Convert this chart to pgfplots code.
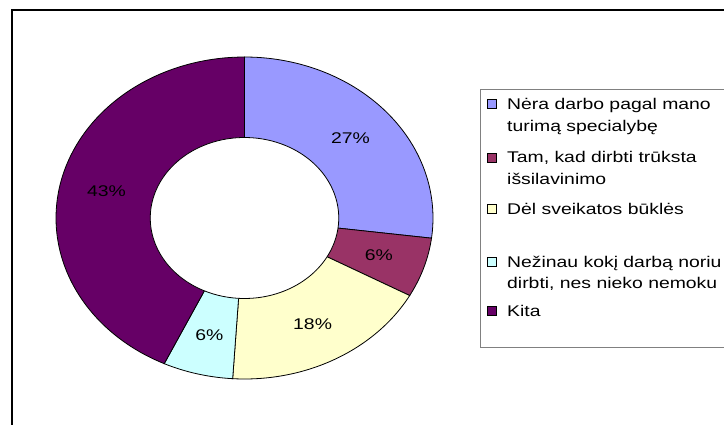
\documentclass[border=0pt]{standalone}
\usepackage{pgfplots}
\pgfplotsset{compat=1.18}
\usepackage{pgfplotstable}
\usepackage{fontspec}
\setmainfont{Liberation Sans}[FakeStretch=1.25]
\definecolor{cA}{HTML}{9999FF}
\definecolor{cB}{HTML}{993366}
\definecolor{cC}{HTML}{FFFFCC}
\definecolor{cD}{HTML}{CCFFFF}
\definecolor{cE}{HTML}{660066}
\pgfplotstableread{
share
27
6
18
6
43
}\piedata
\begin{document}
\fontsize{15.5pt}{18pt}\selectfont
\begin{tikzpicture}[x=1pt,y=1pt]
\pgfplotstablegetelem{0}{share}\of\piedata\let\sA\pgfplotsretval
\pgfplotstablegetelem{1}{share}\of\piedata\let\sB\pgfplotsretval
\pgfplotstablegetelem{2}{share}\of\piedata\let\sC\pgfplotsretval
\pgfplotstablegetelem{3}{share}\of\piedata\let\sD\pgfplotsretval
\pgfplotstablegetelem{4}{share}\of\piedata\let\sE\pgfplotsretval
\pgfmathsetmacro\aZ{90}
\pgfmathsetmacro\aA{\aZ-3.6*\sA}
\pgfmathsetmacro\aB{\aA-3.6*\sB}
\pgfmathsetmacro\aC{\aB-3.6*\sC}
\pgfmathsetmacro\aD{\aC-3.6*\sD}
\pgfmathsetmacro\aE{\aD-3.6*\sE}
\pgfmathsetmacro\xA{0.75*cos((\aZ+\aA)/2)}\pgfmathsetmacro\yA{0.75*sin((\aZ+\aA)/2)}
\pgfmathsetmacro\xB{0.75*cos((\aA+\aB)/2)}\pgfmathsetmacro\yB{0.75*sin((\aA+\aB)/2)}
\pgfmathsetmacro\xC{0.75*cos((\aB+\aC)/2)}\pgfmathsetmacro\yC{0.75*sin((\aB+\aC)/2)}
\pgfmathsetmacro\xD{0.75*cos((\aC+\aD)/2)}\pgfmathsetmacro\yD{0.75*sin((\aC+\aD)/2)}
\pgfmathsetmacro\xE{0.75*cos((\aD+\aE)/2)}\pgfmathsetmacro\yE{0.75*sin((\aD+\aE)/2)}
\clip (0,0) rectangle (724,424);
\fill[white] (0,0) rectangle (724,424);
\draw[line width=2pt] (12,-5) |- (730,414);
\begin{axis}[at={(244.5pt,206pt)}, anchor=center, scale only axis,
  width=377pt, height=322pt, xmin=-1, xmax=1, ymin=-1, ymax=1,
  hide axis, clip=false]
\addplot[fill=cA, draw=black, line width=0.8pt, domain=\aA:\aZ, samples=80, variable=\t] ({cos(\t)},{sin(\t)}) -- (axis cs:0,0) -- cycle;
\addplot[fill=cB, draw=black, line width=0.8pt, domain=\aB:\aA, samples=30, variable=\t] ({cos(\t)},{sin(\t)}) -- (axis cs:0,0) -- cycle;
\addplot[fill=cC, draw=black, line width=0.8pt, domain=\aC:\aB, samples=60, variable=\t] ({cos(\t)},{sin(\t)}) -- (axis cs:0,0) -- cycle;
\addplot[fill=cD, draw=black, line width=0.8pt, domain=\aD:\aC, samples=30, variable=\t] ({cos(\t)},{sin(\t)}) -- (axis cs:0,0) -- cycle;
\addplot[fill=cE, draw=black, line width=0.8pt, domain=\aE:\aD, samples=100, variable=\t] ({cos(\t)},{sin(\t)}) -- (axis cs:0,0) -- cycle;
\addplot[fill=white, draw=black, line width=0.8pt, domain=0:360, samples=160, variable=\t] ({0.5*cos(\t)},{0.5*sin(\t)}) -- cycle;
\node at (axis cs:\xA,\yA) {\sA\%};
\node at (axis cs:\xB,\yB) {\sB\%};
\node at (axis cs:\xC,\yC) {\sC\%};
\node at (axis cs:\xD,\yD) {\sD\%};
\node at (axis cs:\xE,\yE) {\sE\%};
\end{axis}
% legend
\draw[gray, line width=1pt] (480,77) rectangle (740,334);
\filldraw[fill=cA, draw=black, line width=0.6pt] (487,315.5) rectangle (496,324.5);
\filldraw[fill=cB, draw=black, line width=0.6pt] (487,262) rectangle (496,271);
\filldraw[fill=cC, draw=black, line width=0.6pt] (487,210.5) rectangle (496,219.5);
\filldraw[fill=cD, draw=black, line width=0.6pt] (487,158) rectangle (496,167);
\filldraw[fill=cE, draw=black, line width=0.6pt] (487,108.5) rectangle (496,117.5);
\node[anchor=base west, inner sep=0pt] at (507,314.5) {Nėra darbo pagal mano};
\node[anchor=base west, inner sep=0pt] at (507,292) {turimą specialybę};
\node[anchor=base west, inner sep=0pt] at (507,261) {Tam, kad dirbti trūksta};
\node[anchor=base west, inner sep=0pt] at (507,239.5) {išsilavinimo};
\node[anchor=base west, inner sep=0pt] at (507,210) {Dėl sveikatos būklės};
\node[anchor=base west, inner sep=0pt] at (507,157) {Nežinau kokį darbą noriu};
\node[anchor=base west, inner sep=0pt] at (507,136) {dirbti, nes nieko nemoku};
\node[anchor=base west, inner sep=0pt] at (507,107.5) {Kita};
\end{tikzpicture}
\end{document}
